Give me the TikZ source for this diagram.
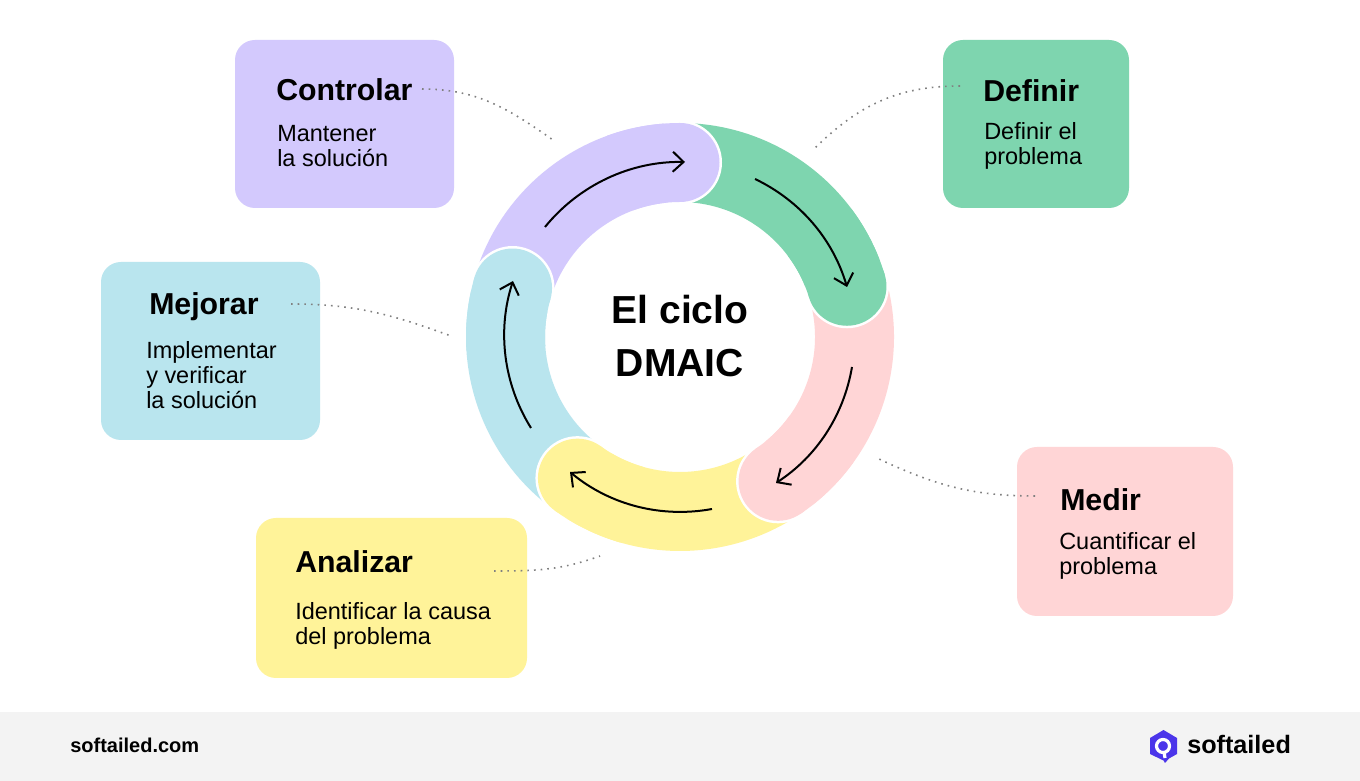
\documentclass[tikz,border=0pt]{standalone}
\usepackage{fontspec}
\usepackage{xcolor}
\usetikzlibrary{arrows.meta}
\setmainfont{Liberation Sans}
\definecolor{ringpurple}{HTML}{D3C9FD}
\definecolor{ringgreen}{HTML}{7ED5AF}
\definecolor{ringpink}{HTML}{FFD5D6}
\definecolor{ringyellow}{HTML}{FFF399}
\definecolor{ringblue}{HTML}{B9E5EE}
\definecolor{footergray}{HTML}{F3F3F3}
\definecolor{logoblue}{HTML}{4B35EA}
\definecolor{leadergray}{HTML}{808080}
\tikzset{
    ringband/.style = {line width = 59.25pt},
    boxfill/.style = {rounded corners = 15pt},
    headtext/.style = {anchor = base west, inner sep = 0pt, font = \fontsize{22.7}{27}\selectfont\bfseries},
    bodytext/.style = {anchor = base west, inner sep = 0pt, align = left, font = \fontsize{17.6}{18.75}\selectfont},
    titletext/.style = {anchor = base, inner sep = 0pt, font = \fontsize{29.3}{36}\selectfont\bfseries},
    ringarrow/.style = {line width = 1.5pt, -{Straight Barb[length = 8pt, width = 15pt, line width = 1.5pt]}, looseness = 0.9},
    leader/.style = {leadergray, line width = 1.2pt, dash pattern = on 1.2pt off 3.8pt}
}

\begin{document}
\begin{tikzpicture}[x = 0.75pt, y = 0.75pt]
        \useasboundingbox (0, 0) rectangle (1360, 781);
        \fill[white] (0, 0) rectangle (1360, 781);
        \fill[footergray] (0, 0) rectangle (1360, 69);

        % boxes
        \fill[boxfill, ringpurple] (235, 741) rectangle (454, 573);
        \fill[boxfill, ringgreen] (943, 741) rectangle (1129, 573);
        \fill[boxfill, ringblue] (101, 519) rectangle (320, 341);
        \fill[boxfill, ringpink] (1017, 334) rectangle (1233, 165);
        \fill[boxfill, ringyellow] (256, 263) rectangle (527, 103);

        \node[headtext] (controlar) at (276, 680) {Controlar};
        \node[bodytext] (controlarbody) at (277, 614) {Mantener\\la solución};
        \node[headtext] (definir) at (983, 679) {Definir};
        \node[bodytext] (definirbody) at (984, 616) {Definir el\\problema};
        \node[headtext] (medir) at (1060, 270) {Medir};
        \node[bodytext] (medirbody) at (1059, 206) {Cuantificar el\\problema};
        \node[headtext] (analizar) at (295, 208) {Analizar};
        \node[bodytext] (analizarbody) at (295, 136) {Identificar la causa\\del problema};
        \node[headtext] (mejorar) at (149, 466) {Mejorar};
        \node[bodytext] (mejorarbody) at (146, 372) {Implementar\\y verificar\\la solución};

        % ring
        \coordinate (ringcentre) at (680, 444);
        \coordinate (headpurple) at ([shift = {(90:174.5)}]ringcentre);
        \coordinate (headgreen) at ([shift = {(16.9:174.5)}]ringcentre);
        \coordinate (headpink) at ([shift = {(-55.8:174.5)}]ringcentre);
        \coordinate (headyellow) at ([shift = {(-126:174.5)}]ringcentre);
        \coordinate (headblue) at ([shift = {(163.7:174.5)}]ringcentre);

        \draw[ringband, ringpurple] (headblue) arc[start angle = 163.7, end angle = 90, radius = 174.5];
        \draw[ringband, ringgreen] (headpurple) arc[start angle = 90, end angle = 16.9, radius = 174.5];
        \draw[ringband, ringpink] (headgreen) arc[start angle = 16.9, end angle = -55.8, radius = 174.5];
        \draw[ringband, ringyellow] (headpink) arc[start angle = -55.8, end angle = -126, radius = 174.5];
        \draw[ringband, ringblue] (headyellow) arc[start angle = -126, end angle = -196.3, radius = 174.5];

        \fill[white] (headpurple) circle (42);
        \fill[ringpurple] (headpurple) circle (39.5);
        \draw[ringband, ringpurple] ([shift = {(110:174.5)}]ringcentre) arc[start angle = 110, end angle = 90, radius = 174.5];
        \fill[white] (headgreen) circle (42);
        \fill[ringgreen] (headgreen) circle (39.5);
        \draw[ringband, ringgreen] ([shift = {(36.9:174.5)}]ringcentre) arc[start angle = 36.9, end angle = 16.9, radius = 174.5];
        \fill[white] (headpink) circle (42);
        \fill[ringpink] (headpink) circle (39.5);
        \draw[ringband, ringpink] ([shift = {(-35.8:174.5)}]ringcentre) arc[start angle = -35.8, end angle = -55.8, radius = 174.5];
        \fill[white] (headyellow) circle (42);
        \fill[ringyellow] (headyellow) circle (39.5);
        \draw[ringband, ringyellow] ([shift = {(-106:174.5)}]ringcentre) arc[start angle = -106, end angle = -126, radius = 174.5];
        \fill[white] (headblue) circle (42);
        \fill[ringblue] (headblue) circle (39.5);
        \draw[ringband, ringblue] ([shift = {(183.7:174.5)}]ringcentre) arc[start angle = 183.7, end angle = 163.7, radius = 174.5];

        % arrows on the ring
        \coordinate (purplefrom) at (545, 554);
        \coordinate (purpleto) at (685, 619);
        \coordinate (greenfrom) at (755, 602);
        \coordinate (greento) at (847, 494);
        \coordinate (pinkfrom) at (852, 414);
        \coordinate (pinkto) at (776, 298);
        \coordinate (yellowfrom) at (712, 272);
        \coordinate (yellowto) at (570, 309);
        \coordinate (bluefrom) at (531, 353);
        \coordinate (blueto) at (513, 500);
        \draw[ringarrow] (purplefrom) to[bend left = 26] (purpleto);
        \draw[ringarrow] (greenfrom) to[bend left = 24] (greento);
        \draw[ringarrow] (pinkfrom) to[bend left = 23.5] (pinkto);
        \draw[ringarrow] (yellowfrom) to[bend left = 25] (yellowto);
        \draw[ringarrow] (bluefrom) to[bend left = 25] (blueto);

        \node[titletext] (ciclo) at (680, 457) {El ciclo};
        \node[titletext] (dmaic) at (680, 404) {DMAIC};

        % leaders
        \coordinate (controlarfrom) at (422, 692);
        \coordinate (controlarto) at (553, 641);
        \coordinate (definirfrom) at (960, 695);
        \coordinate (definirto) at (813, 631);
        \coordinate (medirfrom) at (1035, 285);
        \coordinate (medirto) at (879, 322);
        \coordinate (analizarfrom) at (494, 210);
        \coordinate (analizarto) at (600, 225);
        \coordinate (mejorarfrom) at (291, 477);
        \coordinate (mejorarto) at (451, 445);
        \draw[leader] (controlarfrom) to[out = 0, in = 145] (controlarto);
        \draw[leader] (definirfrom) to[out = 180, in = 45] (definirto);
        \draw[leader] (medirfrom) to[out = 180, in = -25] (medirto);
        \draw[leader] (analizarfrom) to[out = 0, in = 200] (analizarto);
        \draw[leader] (mejorarfrom) to[out = 0, in = 160] (mejorarto);

        % footer
        \node[anchor = base west, inner sep = 0pt, font = \fontsize{15}{18}\selectfont\bfseries] (website) at (70, 28) {softailed.com};
        \fill[logoblue] (1163.5, 51) -- (1177, 43) -- (1177, 27) -- (1169, 22.5) -- (1165, 18) -- (1163.5, 20.5) -- (1150, 27) -- (1150, 43) -- cycle;
        \draw[white, line width = 2.4pt] (1163, 35) circle (6.5);
        \draw[white, line width = 2.4pt] (1164, 29) -- (1165, 23);
        \node[anchor = base west, inner sep = 0pt, font = \fontsize{18.9}{22}\selectfont\bfseries] (logotext) at (1187, 27) {softailed};
\end{tikzpicture}
\end{document}
